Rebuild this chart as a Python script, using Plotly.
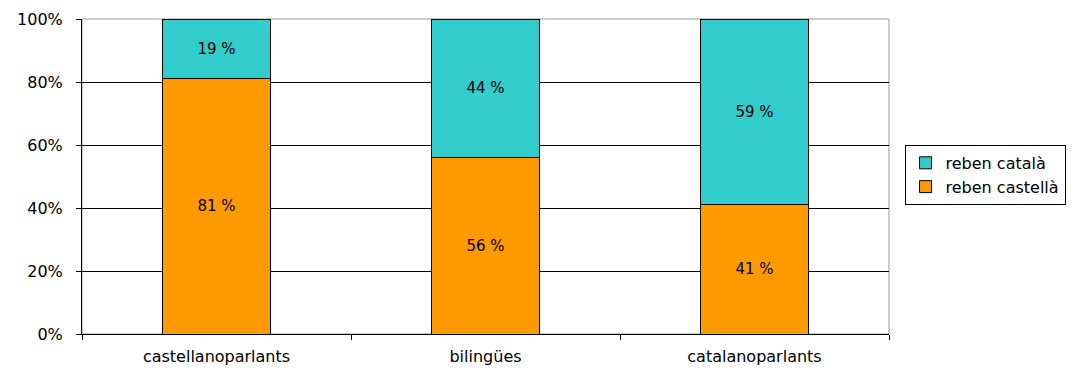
import plotly.graph_objects as go

categories = ["castellanoparlants", "bilingües", "catalanoparlants"]
reben_castella = [81, 56, 41]
reben_catala = [19, 44, 59]
y_ticks = [0, 20, 40, 60, 80, 100]
y_tick_labels = ["0%", "20%", "40%", "60%", "80%", "100%"]

ORANGE = "#FF9900"
CYAN = "#33CCCC"
FONT = "DejaVu Sans"

fig = go.Figure()
fig.add_trace(go.Bar(
    x=categories, y=reben_castella, name="reben castellà",
    marker=dict(color=ORANGE, line=dict(color="black", width=1)),
    text=[f"{v} %" for v in reben_castella], textposition="inside",
    insidetextanchor="middle", textfont=dict(family=FONT, size=15, color="black"),
))
fig.add_trace(go.Bar(
    x=categories, y=reben_catala, name="reben català",
    marker=dict(color=CYAN, line=dict(color="black", width=1)),
    text=[f"{v} %" for v in reben_catala], textposition="inside",
    insidetextanchor="middle", textfont=dict(family=FONT, size=15, color="black"),
))

fig.update_layout(
    barmode="stack",
    bargap=0.6,
    width=1077, height=372,
    margin=dict(l=82, r=187, t=19, b=38),
    paper_bgcolor="white", plot_bgcolor="white",
    font=dict(family=FONT, size=16, color="black"),
    uniformtext=dict(mode="show", minsize=15),
    showlegend=True,
    legend=dict(
        x=1.018, xanchor="left", y=0.505, yanchor="middle",
        traceorder="reversed",
        bordercolor="black", borderwidth=1,
        font=dict(family=FONT, size=16),
        itemwidth=30, tracegroupgap=0,
    ),
    shapes=[dict(
        type="rect", xref="paper", yref="paper", x0=0, x1=1, y0=0, y1=1,
        line=dict(color="#999999", width=1), layer="between",
    )],
)
fig.update_xaxes(
    showline=True, linecolor="black", linewidth=1,
    ticks="outside", tickson="boundaries", ticklen=5, tickcolor="black",
    ticklabelstandoff=8, automargin=False,
    showgrid=False,
)
fig.update_yaxes(
    range=[0, 100], tickvals=y_ticks, ticktext=y_tick_labels,
    showline=True, linecolor="black", linewidth=1,
    ticks="outside", ticklen=5, tickcolor="black",
    ticklabelstandoff=10, automargin=False,
    showgrid=True, gridcolor="black", gridwidth=1,
    zeroline=False,
)

fig.write_html("out.html")
